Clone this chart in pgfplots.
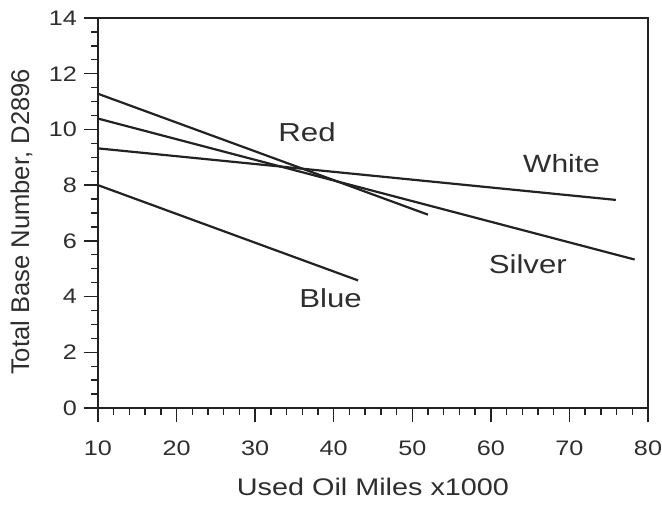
\documentclass[border=0pt]{standalone}
\usepackage{pgfplots}
\pgfplotsset{compat=1.18}
\usepackage{fontspec}
\setmainfont{Liberation Sans}
\newfontfamily\widefont{Liberation Sans}[FakeStretch=1.2]
\definecolor{ink}{HTML}{222222}
\definecolor{txt}{HTML}{2E2E2E}
\begin{document}
\begin{tikzpicture}
\begin{axis}[
  scale only axis,
  width=275pt, height=195pt,
  xmin=10, xmax=80, ymin=0, ymax=14,
  xtick={10,20,...,80}, ytick={0,2,...,14},
  minor x tick num=4, minor y tick num=3,
  xtick pos=left, ytick pos=left,
  tick align=outside,
  major tick length=7pt, minor tick length=3.5pt,
  every tick/.style={ink, line width=0.7pt},
  axis line style={ink, line width=0.8pt},
  /pgf/number format/assume math mode=true,
  tick label style={font=\widefont\fontsize{10.5}{12}\selectfont, text=txt},
  xticklabel style={yshift=-6pt},
  xlabel={Used Oil Miles x1000},
  ylabel={Total Base Number, D2896},
  every axis x label/.style={at={(axis description cs:0.5,-0.2256)}, anchor=base, font=\widefont\fontsize{12}{14}\selectfont, text=txt},
  every axis y label/.style={at={(axis description cs:-0.125,0.477)}, rotate=90, anchor=base, font=\fontsize{12.8}{14}\selectfont, text=txt},
  clip=false,
]
% Red
\addplot[ink, line width=1.1pt] coordinates {(10,11.28) (52,6.94)};
% Silver
\addplot[ink, line width=1.1pt] coordinates {(10,10.39) (78.3,5.33)};
% White
\addplot[ink, line width=1.1pt] coordinates {(10,9.32) (75.9,7.47)};
% Blue
\addplot[ink, line width=1.1pt] coordinates {(10,8.0) (43.1,4.58)};
\node[font=\widefont\fontsize{13}{15}\selectfont, text=txt] at (axis cs:36.6,9.91) {Red};
\node[font=\widefont\fontsize{12.5}{15}\selectfont, text=txt] at (axis cs:69,8.77) {White};
\node[font=\widefont\fontsize{13}{15}\selectfont, text=txt] at (axis cs:64.7,5.16) {Silver};
\node[font=\widefont\fontsize{13}{15}\selectfont, text=txt] at (axis cs:39.6,3.95) {Blue};
\end{axis}
\pgfresetboundingbox
\path[use as bounding box] ([xshift=-49pt,yshift=-48pt]current axis.south west) rectangle ([xshift=7pt,yshift=9pt]current axis.north east);
\end{tikzpicture}
\end{document}
